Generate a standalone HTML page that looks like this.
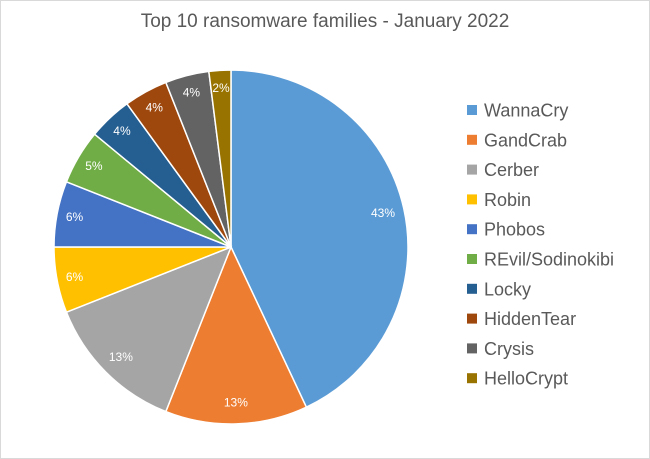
<!DOCTYPE html>
<html><head><meta charset="utf-8"><style>
body{margin:0;background:#fff;}
svg{display:block;font-family:"Liberation Sans",Arial,sans-serif;}
</style></head><body>
<svg width="650" height="459" viewBox="0 0 650 459">
<rect x="0.5" y="0.5" width="649" height="458" fill="#fff" stroke="#d9d9d9"/>
<text x="325" y="27" text-anchor="middle" font-size="19" fill="#595959">Top 10 ransomware families - January 2022</text>
<g id="slices"></g>
<g id="labels"></g>
<g id="legend"></g>
</svg>
<script>
const categories=["WannaCry","GandCrab","Cerber","Robin","Phobos","REvil/Sodinokibi","Locky","HiddenTear","Crysis","HelloCrypt"];
const values=[43,13,13,6,6,5,4,4,4,2];
const valueLabels=["43%","13%","13%","6%","6%","5%","4%","4%","4%","2%"];
const colors=["#5B9BD5","#ED7D31","#A5A5A5","#FFC000","#4472C4","#70AD47","#255E91","#9E480E","#636363","#997300"];
const NS="http://www.w3.org/2000/svg";
const cx=231,cy=247,r=177;
const total=values.reduce((a,b)=>a+b,0);
const sg=document.getElementById('slices'),lg=document.getElementById('labels'),leg=document.getElementById('legend');
function pt(a,rad){return [cx+rad*Math.sin(a),cy-rad*Math.cos(a)];}
let acc=0;
values.forEach((v,i)=>{
  const a0=acc/total*2*Math.PI;acc+=v;const a1=acc/total*2*Math.PI;
  const p0=pt(a0,r),p1=pt(a1,r);
  const large=(a1-a0)>Math.PI?1:0;
  const p=document.createElementNS(NS,'path');
  p.setAttribute('d',`M${cx},${cy} L${p0[0]},${p0[1]} A${r},${r} 0 ${large} 1 ${p1[0]},${p1[1]} Z`);
  p.setAttribute('fill',colors[i]);p.setAttribute('stroke','#fff');p.setAttribute('stroke-width','1.5');
  
  
  sg.appendChild(p);
  const am=(a0+a1)/2;const frac=v>=10?0.88:0.9;
  const lp=pt(am,r*frac);
  const t=document.createElementNS(NS,'text');
  t.setAttribute('x',lp[0]);t.setAttribute('y',lp[1]+4);t.setAttribute('text-anchor','middle');
  t.setAttribute('font-size','12');t.setAttribute('fill','#fff');
  t.textContent=valueLabels[i];
  
  
  lg.appendChild(t);
  const y=110+i*29.8;
  const s=document.createElementNS(NS,'rect');
  s.setAttribute('x',467);s.setAttribute('y',y-5);s.setAttribute('width',10);s.setAttribute('height',10);s.setAttribute('fill',colors[i]);
  
  
  leg.appendChild(s);
  const lt=document.createElementNS(NS,'text');
  lt.setAttribute('x',484);lt.setAttribute('y',y+6.5);lt.setAttribute('font-size','18');lt.setAttribute('fill','#595959');
  lt.textContent=categories[i];
  
  
  leg.appendChild(lt);
});
</script>
</body></html>
